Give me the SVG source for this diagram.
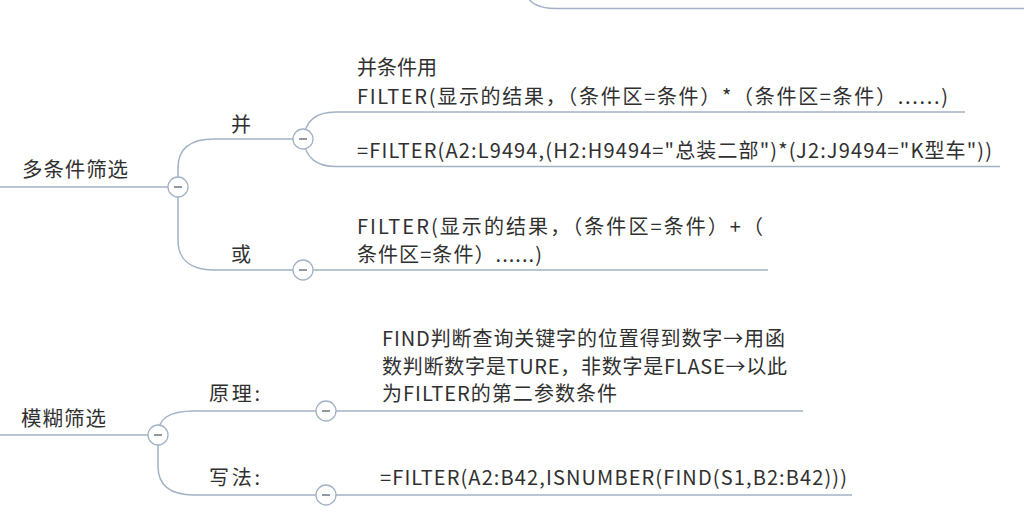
<svg xmlns="http://www.w3.org/2000/svg" width="1024" height="518" viewBox="0 0 1024 518">
<style>
  .bg{fill:#ffffff}
  .ln{fill:none;stroke:#a3b2c6;stroke-width:1.5}
  .tog circle{fill:#ffffff;stroke:#a3b2c6;stroke-width:1.3}
  .tog line{stroke:#556070;stroke-width:1.3}
  text{font-family:"Noto Sans CJK SC","Noto Sans",sans-serif;fill:#303030;font-size:20px}
  .main{font-size:20.5px}
</style>
<rect class="bg" x="0" y="0" width="1024" height="518"/>
<g id="connectors">
  <path class="ln" d="M524,-10 C528,3 538,8.5 556,8.5 H1024"/>
  <path class="ln" d="M0,187 H178"/>
  <path class="ln" d="M178,187 V168 C178,149 190,139 214,139 H303"/>
  <path class="ln" d="M178,187 V240 C178,259 190,270 214,270 H303"/>
  <path class="ln" d="M303,139 C306,120 316,112 336,112 H965"/>
  <path class="ln" d="M303,139 C306,158 316,166.5 336,166.5 H1000"/>
  <path class="ln" d="M303,270 H768"/>
  <path class="ln" d="M0,435 H158"/>
  <path class="ln" d="M158,435 C158,419 168,411 194,411 H326"/>
  <path class="ln" d="M158,435 V466 C158,485 169,495 194,495 H326"/>
  <path class="ln" d="M326,411 H803"/>
  <path class="ln" d="M326,495 H852"/>
</g>
<g id="node-multi">
  <text class="main" x="22" y="177" textLength="106" lengthAdjust="spacing">多条件筛选</text>
  <g class="tog"><circle cx="178" cy="187" r="10"/><line x1="174" y1="187" x2="182" y2="187"/></g>
</g>
<g id="node-and">
  <text x="231" y="132">并</text>
  <g class="tog"><circle cx="303" cy="139" r="10"/><line x1="299" y1="139" x2="307" y2="139"/></g>
</g>
<g id="node-and-desc">
  <text x="357" y="75" textLength="80" lengthAdjust="spacing">并条件用</text>
  <text x="357" y="104" textLength="591" lengthAdjust="spacing">FILTER(显示的结果，（条件区=条件）*（条件区=条件）......)</text>
</g>
<g id="node-and-formula">
  <text x="357" y="158" textLength="635" lengthAdjust="spacing">=FILTER(A2:L9494,(H2:H9494="总装二部")*(J2:J9494="K型车"))</text>
</g>
<g id="node-or">
  <text x="231" y="262">或</text>
  <g class="tog"><circle cx="303" cy="270" r="10"/><line x1="299" y1="270" x2="307" y2="270"/></g>
</g>
<g id="node-or-desc">
  <text x="357" y="234" textLength="406" lengthAdjust="spacing">FILTER(显示的结果，（条件区=条件）+（</text>
  <text x="357" y="262" textLength="185" lengthAdjust="spacing">条件区=条件）......)</text>
</g>
<g id="node-fuzzy">
  <text class="main" x="21" y="426" textLength="85" lengthAdjust="spacing">模糊筛选</text>
  <g class="tog"><circle cx="158" cy="435" r="10"/><line x1="154" y1="435" x2="162" y2="435"/></g>
</g>
<g id="node-principle">
  <text x="209" y="401" textLength="51" lengthAdjust="spacing">原理:</text>
  <g class="tog"><circle cx="326" cy="411" r="10"/><line x1="322" y1="411" x2="330" y2="411"/></g>
</g>
<g id="node-principle-desc">
  <text x="382" y="346" textLength="403" lengthAdjust="spacing">FIND判断查询关键字的位置得到数字→用函</text>
  <text x="382" y="374" textLength="405" lengthAdjust="spacing">数判断数字是TURE，非数字是FLASE→以此</text>
  <text x="382" y="401" textLength="235" lengthAdjust="spacing">为FILTER的第二参数条件</text>
</g>
<g id="node-syntax">
  <text x="209" y="485" textLength="51" lengthAdjust="spacing">写法:</text>
  <g class="tog"><circle cx="326" cy="495" r="10"/><line x1="322" y1="495" x2="330" y2="495"/></g>
</g>
<g id="node-syntax-desc">
  <text x="380" y="485" textLength="467" lengthAdjust="spacing">=FILTER(A2:B42,ISNUMBER(FIND(S1,B2:B42)))</text>
</g>
</svg>
